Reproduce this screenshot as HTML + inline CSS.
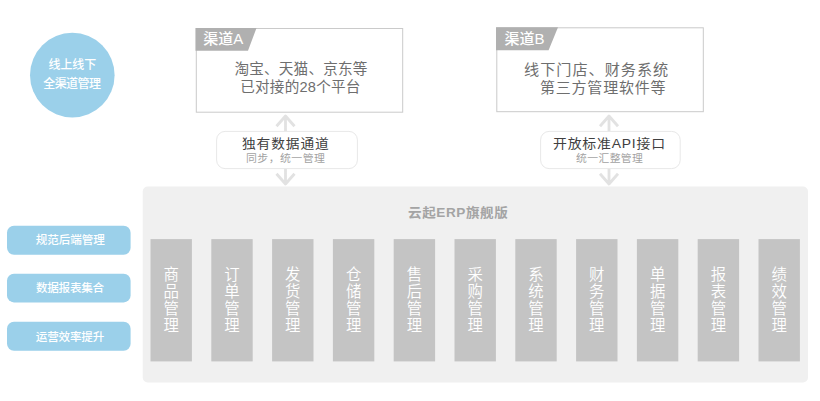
<!DOCTYPE html>
<html lang="zh-CN">
<head>
<meta charset="utf-8">
<title>云起ERP旗舰版</title>
<style>
*{box-sizing:border-box;margin:0;padding:0}
html,body{width:820px;height:401px;background:#fff;overflow:hidden}
body{position:relative;font-family:"Liberation Sans","Noto Sans CJK SC",sans-serif}
svg{position:absolute;left:0;top:0}
.t{position:absolute;white-space:nowrap;transform-origin:0 50%}
.col{position:absolute;top:239.1px;width:41.4px;height:122.3px;padding-top:26.5px;color:#fff;font-size:15.4px;line-height:17.1px;font-weight:350;text-align:center}
</style>
</head>
<body>
<svg width="820" height="401" viewBox="0 0 820 401">
  <circle cx="72.3" cy="75.150" r="42.3" fill="#9bd0ea"/>
  <rect x="142.700" y="186.600" width="665.300" height="195.800" rx="5" fill="#f0f0f0"/>
  <g fill="#c4c4c4"><rect x="150.5" y="239.1" width="41.4" height="122.3"/><rect x="211.3" y="239.1" width="41.4" height="122.3"/><rect x="272.1" y="239.1" width="41.4" height="122.3"/><rect x="332.9" y="239.1" width="41.4" height="122.3"/><rect x="393.7" y="239.1" width="41.4" height="122.3"/><rect x="454.5" y="239.1" width="41.4" height="122.3"/><rect x="515.3" y="239.1" width="41.4" height="122.3"/><rect x="576.1" y="239.1" width="41.4" height="122.3"/><rect x="636.9" y="239.1" width="41.4" height="122.3"/><rect x="697.7" y="239.1" width="41.4" height="122.3"/><rect x="758.5" y="239.1" width="41.4" height="122.3"/></g>
  <g fill="#9bd0ea">
    <rect x="7" y="225.800" width="123.600" height="28.900" rx="7"/>
    <rect x="7" y="273.700" width="123.600" height="28.700" rx="7"/>
    <rect x="7" y="321.800" width="123.600" height="28.900" rx="7"/>
  </g>
  <g fill="none" stroke="#e2e2e2" stroke-width="2.800" stroke-linejoin="round"><path d="M285.5 116V184M276.5 126.200L285.5 116L294.5 126.200M276.5 173.800L285.5 184L294.5 173.800"/><path d="M609 116V184M600 126.200L609 116L618 126.200M600 173.800L609 184L618 173.800"/></g>
  <g fill="#fff" stroke="#cacaca" stroke-width="1">
    <rect x="196.300" y="28.500" width="206.400" height="83.700"/>
    <rect x="496.800" y="27.800" width="206.500" height="83.900"/>
  </g>
  <g fill="#b0b0b0">
    <path d="M195.500 28H256.500L248 50.800H195.500Z"/>
    <path d="M496 27.300H558L548.600 50.300H496Z"/>
  </g>
  <g fill="#fff" stroke="#e8e8e8" stroke-width="1">
    <rect x="216.600" y="131.400" width="140.800" height="37.200" rx="8.500"/>
    <rect x="540.600" y="131.400" width="139.600" height="37.200" rx="8.500"/>
  </g>
</svg>
<span class="t" style="left:48.6px;top:59.35px;font-size:12px;line-height:12px;color:#fff;font-weight:500;letter-spacing:-0.13px">线上线下</span>
<span class="t" style="left:43.3px;top:78.05px;font-size:12px;line-height:12px;color:#fff;font-weight:500;letter-spacing:-0.6px">全渠道管理</span>
<span class="t" style="left:203.15px;top:31.38px;font-size:15px;line-height:15px;color:#fff;font-weight:500">渠道A</span>
<span class="t" style="left:504.55px;top:30.83px;font-size:15px;line-height:15px;color:#fff;font-weight:500;letter-spacing:-0.06px">渠道B</span>
<span class="t" style="left:234.57px;top:61.52px;font-size:14.6px;line-height:14.6px;color:#6e6e6e;font-weight:400;letter-spacing:0.17px">淘宝、天猫、京东等</span>
<span class="t" style="left:240.24px;top:79.66px;font-size:14.6px;line-height:14.6px;color:#6e6e6e;font-weight:400;letter-spacing:0.22px">已对接的28个平台</span>
<span class="t" style="left:523.74px;top:63.16px;font-size:14.3px;line-height:14.3px;color:#6e6e6e;font-weight:400;letter-spacing:0.91px;transform:scaleX(1.061)">线下门店、财务系统</span>
<span class="t" style="left:540.35px;top:81.06px;font-size:14.3px;line-height:14.3px;color:#6e6e6e;font-weight:400;letter-spacing:0.75px;transform:scaleX(1.049)">第三方管理软件等</span>
<span class="t" style="left:242.01px;top:136.82px;font-size:13px;line-height:13px;color:#404040;font-weight:400;letter-spacing:0.82px;transform:scaleX(1.057)">独有数据通道</span>
<span class="t" style="left:245.71px;top:152.68px;font-size:10.5px;line-height:10.5px;color:#a2a2a2;font-weight:400;letter-spacing:0.43px;transform:scaleX(1.037)">同步，统一管理</span>
<span class="t" style="left:552.51px;top:136.82px;font-size:13px;line-height:13px;color:#404040;font-weight:400;letter-spacing:0.76px;transform:scaleX(1.067)">开放标准API接口</span>
<span class="t" style="left:575.66px;top:152.51px;font-size:10.5px;line-height:10.5px;color:#a2a2a2;font-weight:400;letter-spacing:0.38px;transform:scaleX(1.031)">统一汇整管理</span>
<span class="t" style="left:408.02px;top:205.97px;font-size:13px;line-height:13px;color:#a4a4a4;font-weight:700;letter-spacing:0.55px;transform:scaleX(1.044)">云起ERP旗舰版</span>
<span class="t" style="left:35.82px;top:234.39px;font-size:11.6px;line-height:11.6px;color:#fff;font-weight:500;letter-spacing:-0.13px">规范后端管理</span>
<span class="t" style="left:36.02px;top:281.99px;font-size:11.6px;line-height:11.6px;color:#fff;font-weight:500;letter-spacing:-0.29px">数据报表集合</span>
<span class="t" style="left:35.82px;top:330.69px;font-size:11.6px;line-height:11.6px;color:#fff;font-weight:500;letter-spacing:-0.21px">运营效率提升</span>
<div class="col" style="left:150.5px">商<br>品<br>管<br>理</div><div class="col" style="left:211.3px">订<br>单<br>管<br>理</div><div class="col" style="left:272.1px">发<br>货<br>管<br>理</div><div class="col" style="left:332.9px">仓<br>储<br>管<br>理</div><div class="col" style="left:393.7px">售<br>后<br>管<br>理</div><div class="col" style="left:454.5px">采<br>购<br>管<br>理</div><div class="col" style="left:515.3px">系<br>统<br>管<br>理</div><div class="col" style="left:576.1px">财<br>务<br>管<br>理</div><div class="col" style="left:636.9px">单<br>据<br>管<br>理</div><div class="col" style="left:697.7px">报<br>表<br>管<br>理</div><div class="col" style="left:758.5px">绩<br>效<br>管<br>理</div>
</body>
</html>
